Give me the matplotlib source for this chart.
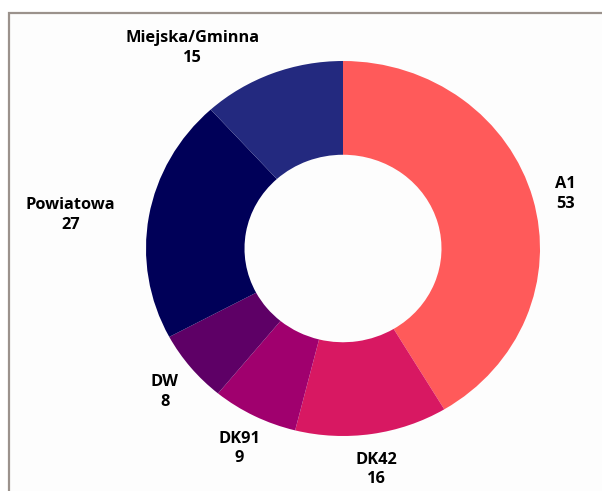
import numpy as np
import matplotlib.pyplot as plt
from matplotlib.patches import Rectangle

# data
categories = ["A1", "DK42", "DK91", "DW", "Powiatowa", "Miejska/Gminna"]
values = [53, 16, 9, 8, 27, 15]
colors = ["#FF5A5A", "#D81862", "#A0006E", "#5E0066", "#000058", "#23297F"]

# label layout: distance from centre (in radii) and extra horizontal shift
label_dist = 1.17
label_shift = [0, 0, 0, 0, -0.23, -0.345]

plt.rcParams["font.family"] = ["Open Sans", "DejaVu Sans"]

W, H = 602, 491
fig = plt.figure(figsize=(W / 100, H / 100), dpi=100)
fig.patch.set_facecolor("white")

# grey frame (top and left edges visible)
fig.patches.append(Rectangle((9 / W, -0.2), 1.2, (H - 13) / H + 0.2,
                             transform=fig.transFigure, facecolor="#FDFDFD",
                             edgecolor="#9B928C", linewidth=1.6, zorder=-5))

# ring is slightly squashed vertically: 394 px wide, 375 px tall
ax = fig.add_axes([146 / W, 55 / H, 394 / W, 375 / H])
ax.set_zorder(1)

wedges, _ = ax.pie(values, colors=colors, startangle=90, counterclock=False,
                   radius=1, wedgeprops=dict(width=0.5, linewidth=0))
ax.set_xlim(-1, 1)
ax.set_ylim(-1, 1)
ax.set_aspect("auto")
ax.axis("off")

for w, name, val, dx in zip(wedges, categories, values, label_shift):
    ang = np.deg2rad((w.theta1 + w.theta2) / 2)
    x = label_dist * np.cos(ang) + dx
    y = label_dist * np.sin(ang) - 0.022
    ax.text(x, y, f"{name}\n{val}", ha="center", va="center",
            multialignment="center", fontsize=11.8, fontweight="bold",
            linespacing=1.3, color="#000000")

fig.savefig("out.png", dpi=100)
